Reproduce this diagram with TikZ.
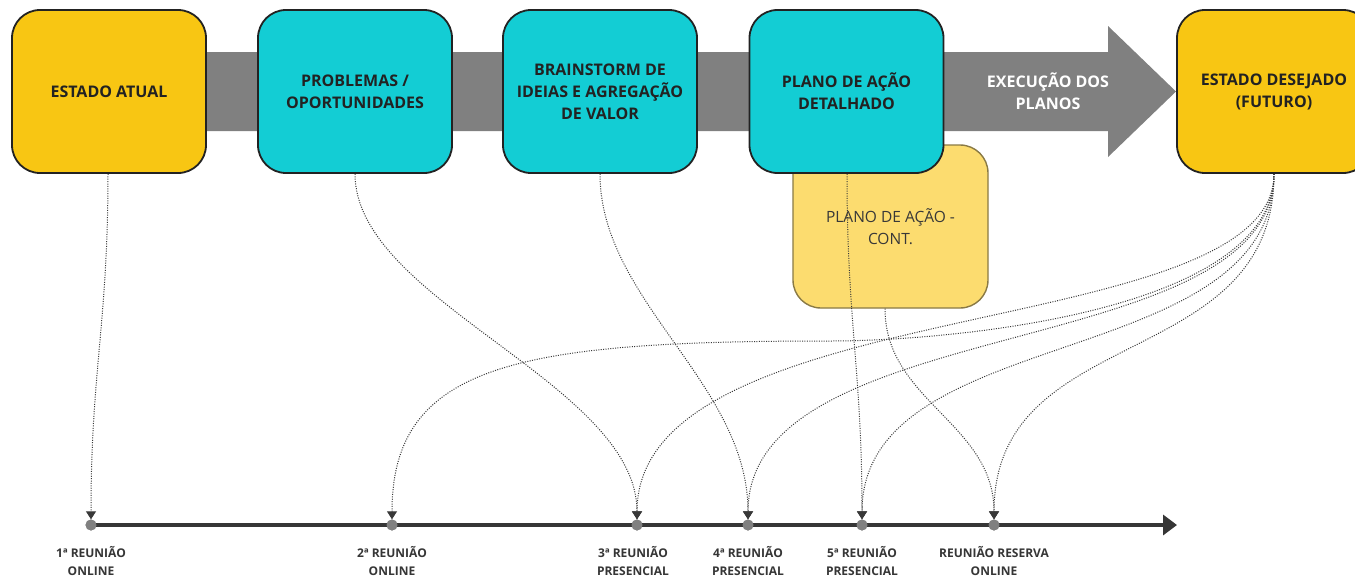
\documentclass[tikz,border=0pt]{standalone}
\usepackage{fontspec}
\setmainfont{Open Sans}
\usetikzlibrary{arrows.meta}
\definecolor{gold}{HTML}{F8C613}
\definecolor{cyanbox}{HTML}{13CDD4}
\definecolor{paleyel}{HTML}{FCDC6F}
\definecolor{paleedge}{HTML}{8A7A45}
\definecolor{band}{HTML}{808080}
\definecolor{ink}{HTML}{222222}
\definecolor{lineink}{HTML}{363636}
\tikzset{
  mainbox/.style={draw=ink, line width=1.8pt, rounded corners=28pt,
    minimum width=194pt, minimum height=163pt, inner sep=0pt,
    text=ink, align=center, font=\fontsize{16}{22}\selectfont\bfseries},
  contbox/.style={draw=paleedge, line width=1.4pt, fill=paleyel, rounded corners=28pt,
    minimum width=195pt, minimum height=163pt, inner sep=0pt,
    text=ink!90, align=center, font=\fontsize{15.5}{22}\selectfont},
  meetdot/.style={circle, fill=band, draw=none, minimum size=11pt, inner sep=0pt},
  meetlabel/.style={text=lineink, align=center, font=\fontsize{12}{18}\selectfont\bfseries},
  link/.style={draw=black!78, line width=1pt, dash pattern=on 1pt off 1.4pt,
    -{Triangle[length=8pt,width=10pt]}, shorten >=1pt},
}
\begin{document}
\begin{tikzpicture}[x=1pt,y=-1pt]
\clip (0,0) rectangle (1355,579);
\fill[white] (0,0) rectangle (1355,579);
% big gray arrow
\fill[band] (150,52) -- (1108,52) -- (1108,26) -- (1176,91.5) -- (1108,157) -- (1108,131) -- (150,131) -- cycle;
\node[text=white, align=center, font=\fontsize{16}{22}\selectfont\bfseries] (exec) at (1048,91.5) {EXECUÇÃO DOS\\PLANOS};
% continuation box (behind)
\node[contbox] (cont) at (890.5,226.5) {PLANO DE AÇÃO -\\CONT.};
% main boxes
\node[mainbox, fill=gold] (atual) at (109,91.5) {ESTADO ATUAL};
\node[mainbox, fill=cyanbox] (prob) at (355,91.5) {PROBLEMAS /\\OPORTUNIDADES};
\node[mainbox, fill=cyanbox] (brain) at (600,91.5) {BRAINSTORM DE\\IDEIAS E AGREGAÇÃO\\DE VALOR};
\node[mainbox, fill=cyanbox] (plano) at (846.5,91.5) {PLANO DE AÇÃO\\DETALHADO};
\node[mainbox, fill=gold] (desej) at (1274,91.5) {ESTADO DESEJADO\\(FUTURO)};
% timeline
\node[meetdot] (m1) at (91,525) {};
\node[meetdot] (m2) at (392,525) {};
\node[meetdot] (m3) at (637,525) {};
\node[meetdot] (m4) at (748,525) {};
\node[meetdot] (m5) at (862,525) {};
\node[meetdot] (m6) at (994,525) {};
\coordinate (tend) at (1177,525);
\draw[lineink, line width=4.5pt, -{Triangle[length=14pt,width=20pt]}] (m1.center) -- (tend);
\foreach \n in {m1,m2,m3,m4,m5,m6} \node[meetdot] at (\n) {};
\node[meetlabel] (l1) at (91,561) {1ª REUNIÃO\\ONLINE};
\node[meetlabel] (l2) at (392,561) {2ª REUNIÃO\\ONLINE};
\node[meetlabel] (l3) at (633,561) {3ª REUNIÃO\\PRESENCIAL};
\node[meetlabel] (l4) at (748,561) {4ª REUNIÃO\\PRESENCIAL};
\node[meetlabel] (l5) at (862,561) {5ª REUNIÃO\\PRESENCIAL};
\node[meetlabel] (l6) at (994,561) {REUNIÃO RESERVA\\ONLINE};
% start points
\coordinate (sA) at ([xshift=-1pt]atual.south);
\coordinate (sP) at (prob.south);
\coordinate (sB) at (brain.south);
\coordinate (sD) at ([xshift=0.5pt]plano.south);
\coordinate (sC) at ([xshift=-5.5pt]cont.south);
\coordinate (sE) at (desej.south);
% tips
\coordinate (t1) at ([yshift=-1pt]m1.north);
\coordinate (t2) at ([yshift=-1pt]m2.north);
\coordinate (t3) at ([yshift=-1pt]m3.north);
\coordinate (t4) at ([yshift=-1pt]m4.north);
\coordinate (t5) at ([yshift=-1pt]m5.north);
\coordinate (t6) at ([yshift=-1pt]m6.north);
% connectors
\draw[link] (sA) .. controls +(0,150) and +(0,-150) .. (t1);
\draw[link] (sP) .. controls +(0,127) and +(0,-137) .. (t3);
\draw[link] (sB) .. controls +(0,127) and +(0,-137) .. (t4);
\draw[link] (sD) .. controls +(0,150) and +(0,-150) .. (t5);
\draw[link] (sC) .. controls +(0,92) and +(0,-97) .. (t6);
\draw[link] (sE) .. controls +(0,137) and +(124,0) .. (830,341) .. controls +(-310,0) and +(0,-157) .. (t2);
\draw[link] (sE) .. controls +(0,170) and +(0,-230) .. (t3);
\draw[link] (sE) .. controls +(0,190) and +(0,-210) .. (t4);
\draw[link] (sE) .. controls +(0,200) and +(0,-200) .. (t5);
\draw[link] (sE) .. controls +(0,200) and +(0,-200) .. (t6);
\end{tikzpicture}
\end{document}
